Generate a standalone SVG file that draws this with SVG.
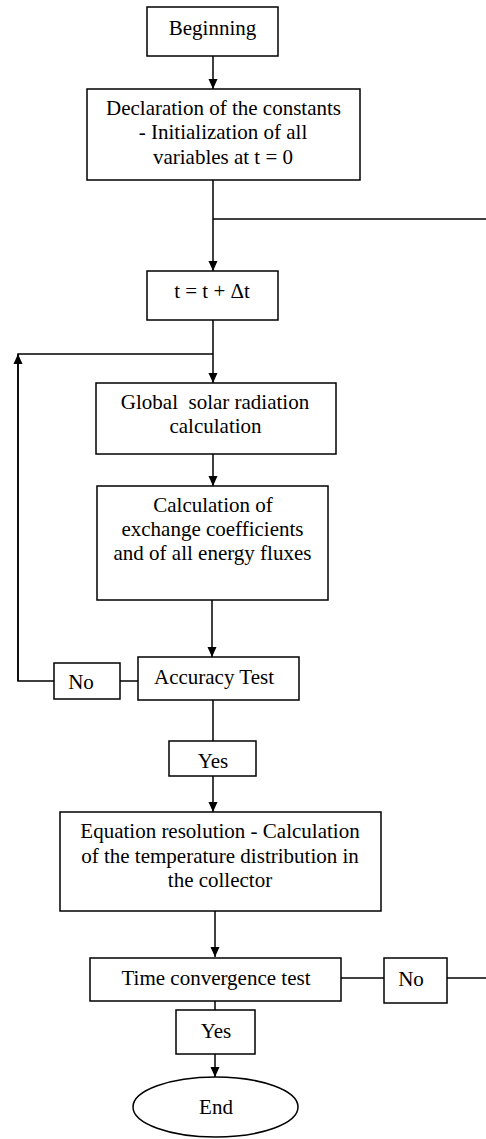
<svg xmlns="http://www.w3.org/2000/svg" width="486" height="1139" viewBox="0 0 486 1139">
<style>
.box{fill:#fff;stroke:#000;stroke-width:1.5}
.ln{fill:none;stroke:#000;stroke-width:1.5}
.t{font-family:"Liberation Serif","Times New Roman",serif;font-size:21px;fill:#000;text-anchor:middle;white-space:pre}
</style>
<defs>
<marker id="ah" markerUnits="userSpaceOnUse" markerWidth="10" markerHeight="10" viewBox="0 0 10 10" refX="10" refY="5" orient="auto">
<path d="M0,0.5 L10,5 L0,9.5 z" fill="#000"/>
</marker>
</defs>
<g id="connectors">
<line class="ln" x1="213" y1="56" x2="213" y2="89" marker-end="url(#ah)"/>
<line class="ln" x1="213" y1="180" x2="213" y2="271" marker-end="url(#ah)"/>
<line class="ln" x1="213" y1="219" x2="486" y2="219"/>
<line class="ln" x1="213" y1="320" x2="213" y2="383" marker-end="url(#ah)"/>
<polyline class="ln" points="213,354 18,354 18,681 54,681"/>
<line class="ln" x1="18" y1="681" x2="18" y2="354" marker-end="url(#ah)"/>
<line class="ln" x1="120" y1="681" x2="138" y2="681"/>
<line class="ln" x1="213" y1="454" x2="213" y2="486" marker-end="url(#ah)"/>
<line class="ln" x1="212" y1="600" x2="212" y2="657" marker-end="url(#ah)"/>
<line class="ln" x1="213" y1="700" x2="213" y2="741"/>
<line class="ln" x1="213" y1="776" x2="213" y2="812" marker-end="url(#ah)"/>
<line class="ln" x1="215" y1="911" x2="215" y2="957" marker-end="url(#ah)"/>
<line class="ln" x1="341" y1="978" x2="384" y2="978"/>
<line class="ln" x1="447" y1="978" x2="486" y2="978"/>
<line class="ln" x1="215" y1="1001" x2="215" y2="1010"/>
<line class="ln" x1="215" y1="1054" x2="215" y2="1077" marker-end="url(#ah)"/>
</g>
<g id="beginning">
<rect class="box" x="147" y="7" width="131" height="49"/>
<text class="t" x="212.5" y="35">Beginning</text>
</g>
<g id="declaration">
<rect class="box" x="87" y="89" width="273" height="91"/>
<text class="t" x="223.5" y="115">Declaration of the constants</text>
<text class="t" x="223" y="139">- Initialization of all</text>
<text class="t" x="223" y="164">variables at t = 0</text>
</g>
<g id="timestep">
<rect class="box" x="147" y="271" width="131" height="49"/>
<text class="t" x="212" y="298">t = t + Δt</text>
</g>
<g id="solar">
<rect class="box" x="96" y="383" width="240" height="71"/>
<text class="t" x="215" y="409">Global  solar radiation</text>
<text class="t" x="215.5" y="433">calculation</text>
</g>
<g id="coefficients">
<rect class="box" x="97" y="486" width="231" height="114"/>
<text class="t" x="213" y="512">Calculation of</text>
<text class="t" x="212.5" y="536">exchange coefficients</text>
<text class="t" x="212.5" y="560">and of all energy fluxes</text>
</g>
<g id="accuracy">
<rect class="box" x="138" y="657" width="161" height="43"/>
<text class="t" x="214" y="684">Accuracy Test</text>
</g>
<g id="no1">
<rect class="box" x="54" y="663" width="66" height="36"/>
<text class="t" x="81" y="689">No</text>
</g>
<g id="yes1">
<rect class="box" x="169" y="741" width="87" height="35"/>
<text class="t" x="213" y="768">Yes</text>
</g>
<g id="equation">
<rect class="box" x="60" y="812" width="321" height="99"/>
<text class="t" x="220" y="838">Equation resolution - Calculation</text>
<text class="t" x="220" y="863">of the temperature distribution in</text>
<text class="t" x="220" y="887">the collector</text>
</g>
<g id="convergence">
<rect class="box" x="90" y="958" width="251" height="43"/>
<text class="t" x="216" y="985">Time convergence test</text>
</g>
<g id="no2">
<rect class="box" x="384" y="958" width="63" height="45"/>
<text class="t" x="411" y="986">No</text>
</g>
<g id="yes2">
<rect class="box" x="176" y="1010" width="79" height="44"/>
<text class="t" x="216" y="1038">Yes</text>
</g>
<g id="end">
<ellipse class="box" cx="215.5" cy="1107" rx="82.5" ry="30"/>
<text class="t" x="216" y="1114">End</text>
</g>
</svg>
